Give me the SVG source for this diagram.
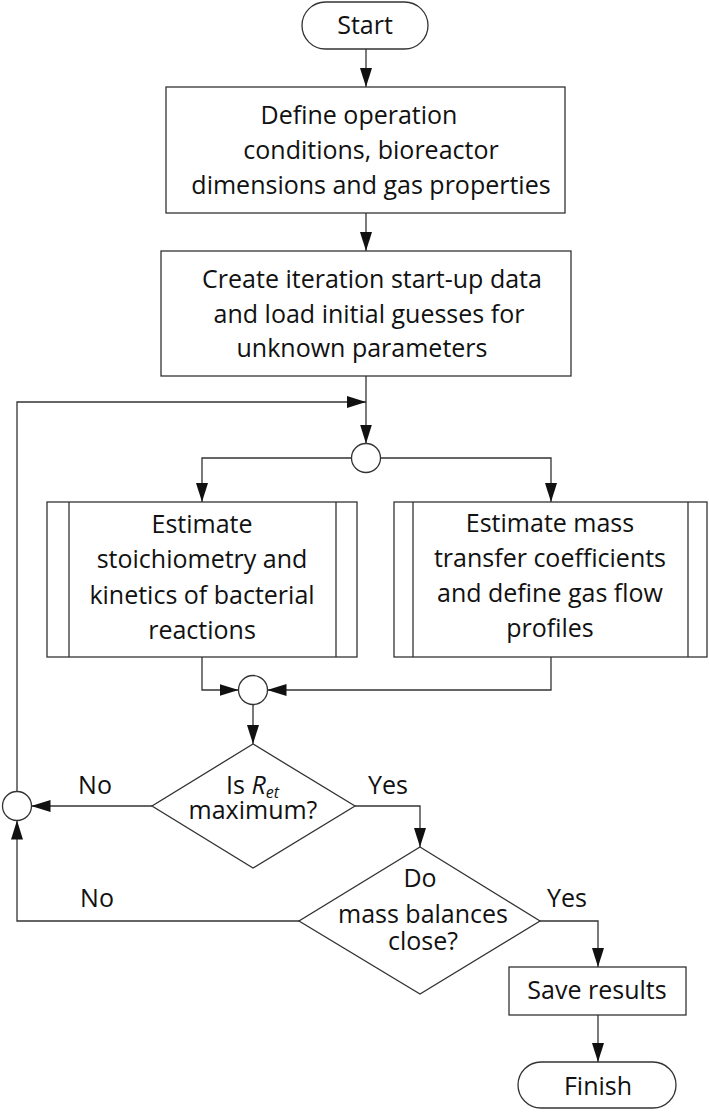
<svg xmlns="http://www.w3.org/2000/svg" width="709" height="1112" viewBox="0 0 709 1112">
<style>
.s{fill:#fff;stroke:#333;stroke-width:1.3}
.c{fill:none;stroke:#333;stroke-width:1.3}
text{font-family:"Open Sans","Liberation Sans",sans-serif;font-size:25px;fill:#111;text-anchor:middle}
.l{text-anchor:start}
.i{font-style:italic}
</style>
<defs>
<marker id="a" markerUnits="userSpaceOnUse" markerWidth="19" markerHeight="12" refX="19" refY="6" orient="auto" viewBox="0 0 19 12">
<path d="M0,0 L19,6 L0,12 Z" fill="#111"/>
</marker>
</defs>
<rect width="709" height="1112" fill="#fff"/>
<g id="connectors" class="c">
<path class="c" d="M366,49 V87" marker-end="url(#a)"/>
<path class="c" d="M366,213 V251" marker-end="url(#a)"/>
<path class="c" d="M366,376 V443.5" marker-end="url(#a)"/>
<path class="c" d="M351.5,458 H202 V502" marker-end="url(#a)"/>
<path class="c" d="M380.5,458 H551 V502" marker-end="url(#a)"/>
<path class="c" d="M202,657 V690 H238.5" marker-end="url(#a)"/>
<path class="c" d="M551,657 V690 H267.5" marker-end="url(#a)"/>
<path class="c" d="M253,704.5 V744" marker-end="url(#a)"/>
<path class="c" d="M152,806 H31.5" marker-end="url(#a)"/>
<path class="c" d="M17,791.5 V402 H366" marker-end="url(#a)"/>
<path class="c" d="M355,806 H420 V847" marker-end="url(#a)"/>
<path class="c" d="M299,921 H17 V820.5" marker-end="url(#a)"/>
<path class="c" d="M540,921 H598 V967" marker-end="url(#a)"/>
<path class="c" d="M598,1015 V1062" marker-end="url(#a)"/>
</g>
<g id="start"><rect class="s" x="302" y="2" width="126" height="47" rx="23.5"/><text x="365" y="34">Start</text></g>
<g id="define">
<rect class="s" x="166" y="87" width="399" height="126"/>
<text x="359" y="124">Define operation</text>
<text x="371" y="159">conditions, bioreactor</text>
<text x="371" y="194">dimensions and gas properties</text>
</g>
<g id="create">
<rect class="s" x="161" y="251" width="410" height="125"/>
<text x="372" y="288">Create iteration start-up data</text>
<text x="369" y="323">and load initial guesses for</text>
<text x="362" y="357">unknown parameters</text>
</g>
<g id="split"><circle class="s" cx="366" cy="458" r="14.5"/></g>
<g id="stoich">
<rect class="s" x="47" y="502" width="310" height="155"/>
<path class="c" d="M69,502 V657 M336,502 V657"/>
<text x="202" y="533">Estimate</text>
<text x="202" y="568">stoichiometry and</text>
<text x="202" y="604">kinetics of bacterial</text>
<text x="202" y="639">reactions</text>
</g>
<g id="mass">
<rect class="s" x="394" y="502" width="313" height="155"/>
<path class="c" d="M413,502 V657 M688,502 V657"/>
<text x="550" y="532">Estimate mass</text>
<text x="550" y="567">transfer coefficients</text>
<text x="550" y="602">and define gas flow</text>
<text x="550" y="637">profiles</text>
</g>
<g id="merge"><circle class="s" cx="253" cy="690" r="14.5"/></g>
<g id="decision1">
<path class="s" d="M253,744 L355,806 L253,868 L152,806 Z"/>
<text class="l" x="226" y="794">Is <tspan class="i">R</tspan><tspan class="i" font-size="16" dy="4">et</tspan></text>
<text x="253" y="819">maximum?</text>
</g>
<g id="loop"><circle class="s" cx="17" cy="806" r="14.5"/></g>
<g id="decision2">
<path class="s" d="M420,847 L540,921 L420,994 L299,921 Z"/>
<text x="420" y="887">Do</text>
<text x="423" y="923">mass balances</text>
<text x="423" y="950">close?</text>
</g>
<g id="save"><rect class="s" x="509" y="967" width="177" height="48"/><text x="597" y="999">Save results</text></g>
<g id="finish"><rect class="s" x="518" y="1062" width="158" height="46" rx="23"/><text x="598" y="1095">Finish</text></g>
<g id="labels">
<text x="95" y="794">No</text>
<text x="388" y="794">Yes</text>
<text x="97" y="907">No</text>
<text x="567" y="907">Yes</text>
</g>
</svg>
